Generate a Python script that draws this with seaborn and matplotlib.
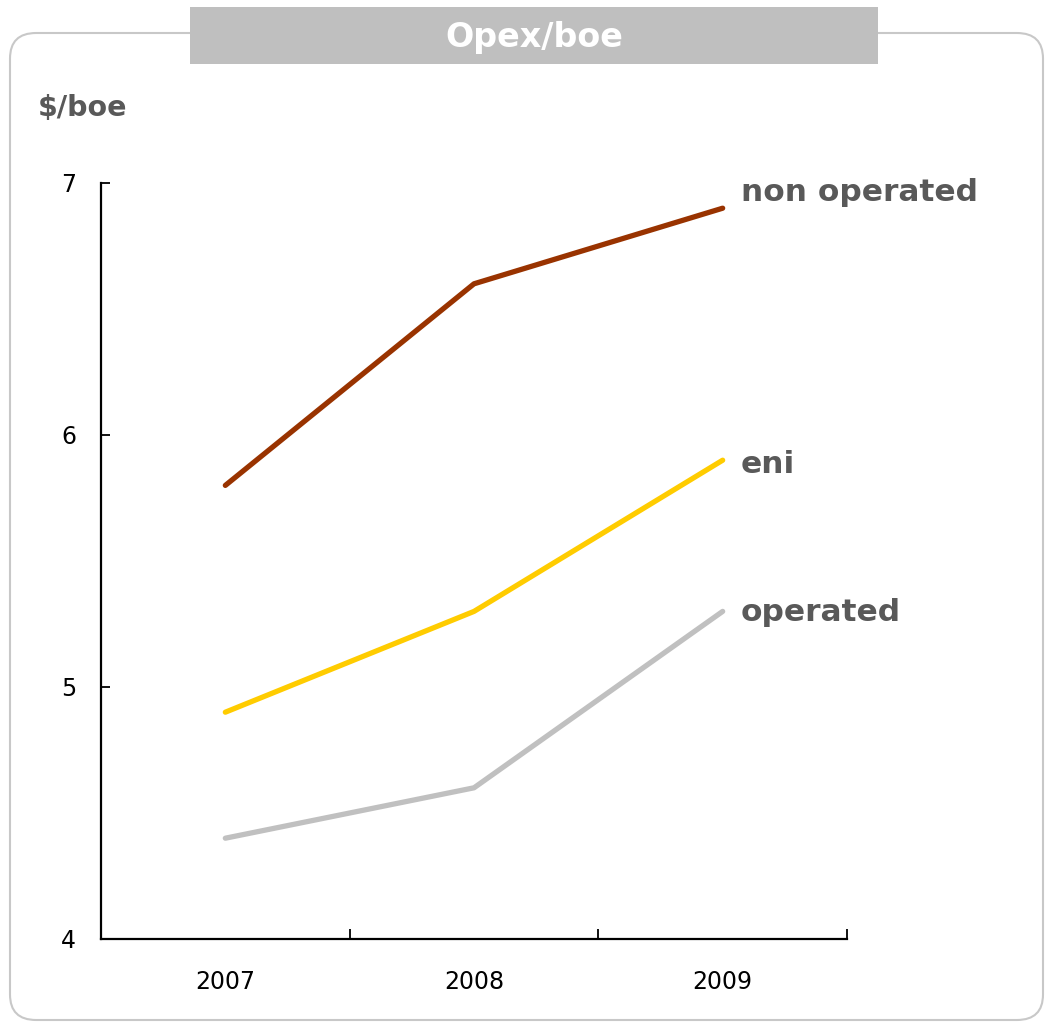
import pandas as pd
import seaborn as sns
import matplotlib.pyplot as plt
from matplotlib.patches import FancyBboxPatch, Rectangle
from matplotlib.ticker import FixedLocator

# chart data
years = ['2007', '2008', '2009']
series = ['non operated', 'eni', 'operated']
non_operated = [5.8, 6.6, 6.9]
eni = [4.9, 5.3, 5.9]
operated = [4.4, 4.6, 5.3]
colors = {'non operated': '#993300', 'eni': '#FFCC00', 'operated': '#C0C0C0'}

df = pd.DataFrame({
    'x': list(range(len(years))) * 3,
    'value': non_operated + eni + operated,
    'series': [s for s in series for _ in years],
})

sns.set_style('white')
plt.rcParams['font.family'] = ['DejaVu Sans']

fig = plt.figure(figsize=(10.46, 10.23), dpi=100)
W, H = 1046, 1023

# rounded frame and title box
frame = FancyBboxPatch((10 / W, 3 / H), 1033 / W, (1023 - 33 - 3) / H,
                       boxstyle='round,pad=0,rounding_size=0.025',
                       transform=fig.transFigure, facecolor='none',
                       edgecolor='#c8c8c8', linewidth=1.5, zorder=-1)
fig.patches.append(frame)
title_box = Rectangle((190 / W, (1023 - 64) / H), 688 / W, 57 / H,
                      transform=fig.transFigure, facecolor='#bfbfbf',
                      edgecolor='none', zorder=1)
fig.patches.append(title_box)
fig.text(534 / W, (1023 - 38) / H, 'Opex/boe', color='white', fontsize=24,
         fontweight='bold', ha='center', va='center', zorder=2)
fig.text(38 / W, (1023 - 108) / H, '$/boe', color='#595959', fontsize=20.5,
         fontweight='bold', ha='left', va='center')

ax = fig.add_axes([101 / W, 84 / H, 746 / W, 756 / H])
ax.patch.set_alpha(0)
sns.lineplot(data=df, x='x', y='value', hue='series', palette=colors,
             linewidth=3.8, legend=False, ax=ax)
for line in ax.lines:
    line.set_solid_capstyle('round')

ax.set_xlim(-0.5, len(years) - 0.5)
ax.set_ylim(4, 7)
ax.set_yticks([4, 5, 6, 7])
ax.set_xticks(range(len(years)))
ax.set_xticklabels(years)
ax.xaxis.set_minor_locator(FixedLocator([0.5, 1.5, 2.5]))
ax.set_xlabel('')
ax.set_ylabel('')
for side in ['top', 'right']:
    ax.spines[side].set_visible(False)
for side in ['left', 'bottom']:
    ax.spines[side].set_color('black')
    ax.spines[side].set_linewidth(1.6)

ax.tick_params(axis='x', which='major', length=0, pad=22, labelsize=17,
               labelcolor='black')
ax.tick_params(axis='x', which='minor', direction='in', length=7, width=1.3,
               color='black', bottom=True)
ax.tick_params(axis='y', direction='in', length=6.5, width=1.3, color='black',
               left=True, pad=18, labelsize=17, labelcolor='black')

# series labels at the line ends
offsets = {'non operated': 16, 'eni': -4, 'operated': -1}
ends = {'non operated': non_operated[-1], 'eni': eni[-1], 'operated': operated[-1]}
for s in series:
    ax.annotate(s, xy=(len(years) - 1, ends[s]), xytext=(18, offsets[s]),
                textcoords='offset pixels', color='#595959', fontsize=22.5,
                fontweight='bold', ha='left', va='center', annotation_clip=False)

fig.savefig('out.png', dpi=100)
